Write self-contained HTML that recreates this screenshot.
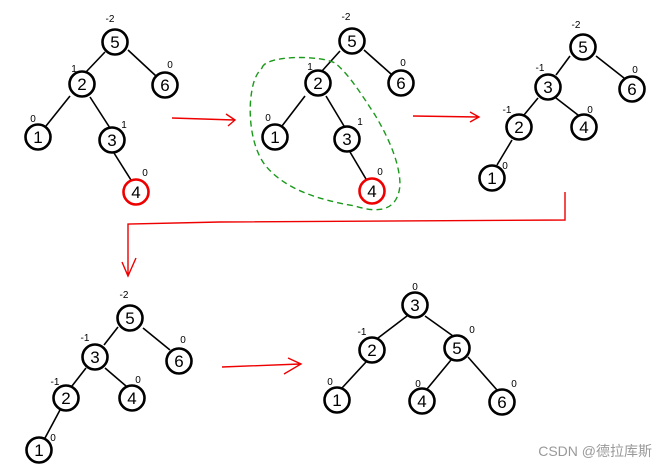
<!DOCTYPE html>
<html><head><meta charset="utf-8"><style>
html,body{margin:0;padding:0;background:#fff;}
svg{display:block}
text{font-family:"Liberation Sans",sans-serif;}
</style></head><body>
<svg width="667" height="468" viewBox="0 0 667 468" xmlns="http://www.w3.org/2000/svg">
<defs>
<g id="n"><circle r="12.5" fill="#fff" stroke="#000" stroke-width="2.6"/></g>
</defs>
<g stroke="#000" stroke-width="1.6" fill="none">
<!-- tree1 -->
<line x1="105" y1="52" x2="86" y2="72"/><line x1="128" y1="50" x2="156" y2="76"/>
<line x1="70" y1="96" x2="46" y2="126"/><line x1="90" y1="97" x2="110" y2="128"/><line x1="114" y1="153" x2="131" y2="180"/>
<!-- tree2 -->
<line x1="340" y1="51" x2="322" y2="71"/><line x1="364" y1="50" x2="391" y2="74"/>
<line x1="305" y1="96" x2="282" y2="126"/><line x1="326" y1="96" x2="344" y2="126"/><line x1="350" y1="152" x2="366" y2="179"/>
<!-- tree3 -->
<line x1="570" y1="56" x2="556" y2="75"/><line x1="596" y1="56" x2="624" y2="78"/>
<line x1="538" y1="98" x2="524" y2="115"/><line x1="556" y1="98" x2="578" y2="115"/><line x1="512" y1="140" x2="497" y2="165"/>
<!-- tree4 -->
<line x1="118" y1="327" x2="104" y2="345"/><line x1="143" y1="328" x2="170" y2="350"/>
<line x1="86" y1="368" x2="72" y2="386"/><line x1="105" y1="368" x2="126" y2="386"/><line x1="60" y1="410" x2="45" y2="438"/>
<!-- tree5 -->
<line x1="407" y1="316" x2="378" y2="338"/><line x1="425" y1="316" x2="453" y2="336"/>
<line x1="366" y1="362" x2="342" y2="388"/><line x1="451" y1="360" x2="427" y2="389"/><line x1="468" y1="357" x2="497" y2="390"/>
</g>
<g>
<use href="#n" x="115" y="42"/><use href="#n" x="82" y="84"/><use href="#n" x="165" y="85"/><use href="#n" x="38" y="137"/><use href="#n" x="112" y="140"/>
<circle cx="136" cy="192" r="12.5" fill="#fff" stroke="#e00" stroke-width="2.6"/>
<use href="#n" x="352" y="41"/><use href="#n" x="318" y="83"/><use href="#n" x="401" y="83"/><use href="#n" x="275" y="137"/><use href="#n" x="347" y="139"/>
<circle cx="372" cy="191" r="12.5" fill="#fff" stroke="#e00" stroke-width="2.6"/>
<use href="#n" x="583" y="47"/><use href="#n" x="548" y="87"/><use href="#n" x="632" y="89"/><use href="#n" x="519" y="127"/><use href="#n" x="584" y="127"/><use href="#n" x="492" y="178"/>
<use href="#n" x="130" y="318"/><use href="#n" x="95" y="357"/><use href="#n" x="179" y="361"/><use href="#n" x="66" y="398"/><use href="#n" x="132" y="398"/><use href="#n" x="39" y="450"/>
<use href="#n" x="415" y="305"/><use href="#n" x="372" y="350"/><use href="#n" x="457" y="348"/><use href="#n" x="337" y="400"/><use href="#n" x="422" y="401"/><use href="#n" x="502" y="402"/>
</g>
<g font-size="17" text-anchor="middle" fill="#000">
<text x="115" y="48">5</text><text x="82" y="90">2</text><text x="165" y="91">6</text><text x="38" y="143">1</text><text x="112" y="146">3</text><text x="136" y="198">4</text>
<text x="352" y="47">5</text><text x="318" y="89">2</text><text x="401" y="89">6</text><text x="275" y="143">1</text><text x="347" y="145">3</text><text x="372" y="197">4</text>
<text x="583" y="53">5</text><text x="548" y="93">3</text><text x="632" y="95">6</text><text x="519" y="133">2</text><text x="584" y="133">4</text><text x="492" y="184">1</text>
<text x="130" y="324">5</text><text x="95" y="363">3</text><text x="179" y="367">6</text><text x="66" y="404">2</text><text x="132" y="404">4</text><text x="39" y="456">1</text>
<text x="415" y="311">3</text><text x="372" y="356">2</text><text x="457" y="354">5</text><text x="337" y="406">1</text><text x="422" y="407">4</text><text x="502" y="408">6</text>
</g>
<g font-size="10" text-anchor="middle" fill="#000">
<text x="110" y="22">-2</text><text x="74" y="72">1</text><text x="170" y="68">0</text><text x="33" y="122">0</text><text x="124" y="128">1</text><text x="145" y="176">0</text>
<text x="346" y="20">-2</text><text x="310" y="70">1</text><text x="403" y="66">0</text><text x="268" y="121">0</text><text x="360" y="125">1</text><text x="380" y="175">0</text>
<text x="576" y="28">-2</text><text x="540" y="71">-1</text><text x="635" y="73">0</text><text x="507" y="113">-1</text><text x="590" y="113">0</text><text x="505" y="169">0</text>
<text x="124" y="298">-2</text><text x="85" y="341">-1</text><text x="183" y="343">0</text><text x="55" y="385">-1</text><text x="138" y="383">0</text><text x="53" y="441">0</text>
<text x="415" y="290">0</text><text x="362" y="335">-1</text><text x="472" y="333">0</text><text x="330" y="385">0</text><text x="418" y="387">0</text><text x="514" y="387">0</text>
</g>
<g stroke="#e00" stroke-width="1.4" fill="none">
<path d="M172 118 L234 120 M226 114 L235 120 L228 126"/>
<path d="M413 116 L478 117 M470 112 L479 117 L470 122"/>
<path d="M565 192 L565 220 L220 222 L128 224 L128 276 M122 262 L128 276 L136 258"/>
<path d="M222 367 L300 364 M288 358 L301 364 L284 374"/>
</g>
<path d="M262 68 C265 55 320 55 335 63 C350 75 365 100 375 115 C390 140 400 165 400 185 C398 210 380 214 355 206 C320 200 285 190 265 165 C250 145 248 110 252 90 C254 78 258 72 262 68 Z" fill="none" stroke="#1a9a1a" stroke-width="1.4" stroke-dasharray="6,4"/>
<text x="652" y="456" text-anchor="end" font-size="14" fill="#999" font-family="Liberation Sans, Noto Sans CJK SC, sans-serif">CSDN @德拉库斯</text>
</svg>
</body></html>
